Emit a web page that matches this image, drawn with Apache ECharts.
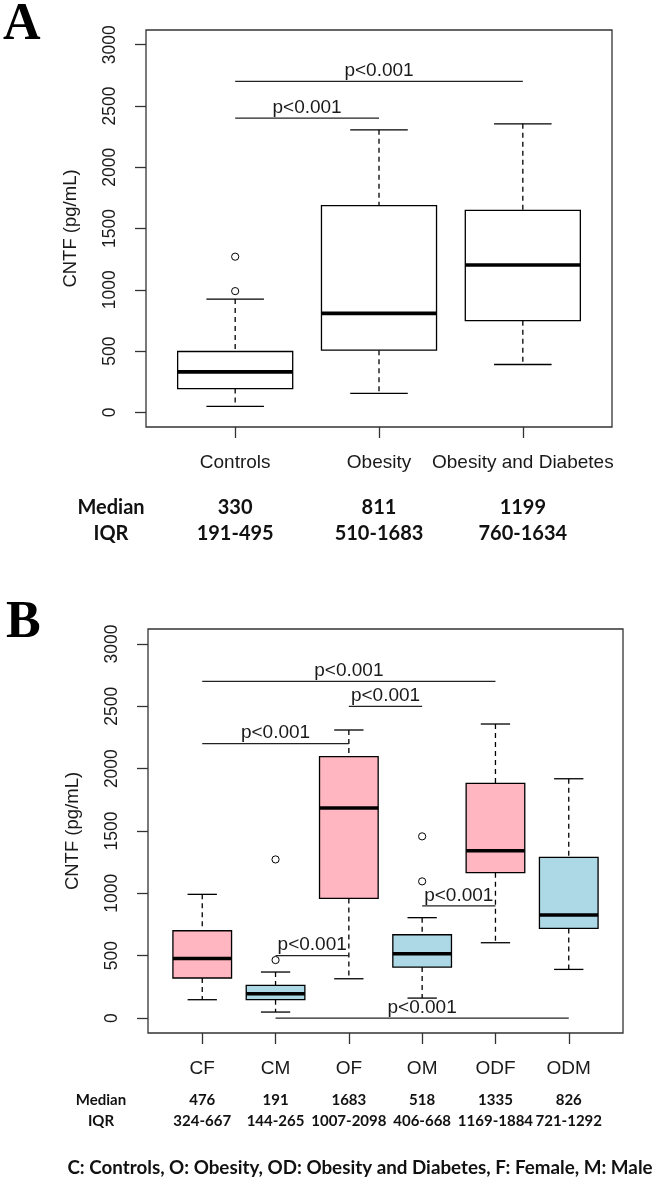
<!DOCTYPE html>
<html>
<head>
<meta charset="utf-8">
<script src="https://cdn.jsdelivr.net/npm/echarts@6/dist/echarts.min.js"></script>
<style>
html,body{margin:0;padding:0;background:#fff;}
#chart{width:660px;height:1181px;}
</style>
</head>
<body>
<div id="chart"></div>
<script>
// ---------- Panel A data ----------
const catsA = ['Controls', 'Obesity', 'Obesity and Diabetes'];
// [lower whisker, Q1, median, Q3, upper whisker]
const boxA = [
  [49, 194, 330, 496, 924],
  [155, 507, 807, 1686, 2305],
  [390, 748, 1202, 1648, 2354]
];
const outliersA = [[1, 989], [1, 1270]];
const medianA = ['330', '811', '1199'];
const iqrA = ['191-495', '510-1683', '760-1634'];
// [from category, to category, level]
const pA = [[1, 3, 2700], [1, 2, 2400]];

// ---------- Panel B data ----------
const catsB = ['CF', 'CM', 'OF', 'OM', 'ODF', 'ODM'];
const boxB = [
  [147, 321, 478, 700, 992],
  [48, 147, 195, 262, 369],
  [315, 959, 1684, 2096, 2310],
  [160, 409, 516, 668, 805],
  [604, 1166, 1342, 1882, 2358],
  [390, 719, 826, 1288, 1919]
];
const outliersB = [[2, 465], [2, 1272], [4, 1096], [4, 1457]];
const medianB = ['476', '191', '1683', '518', '1335', '826'];
const iqrB = ['324-667', '144-265', '1007-2098', '406-668', '1169-1884', '721-1292'];
const pB = [[1, 5, 2700], [3, 4, 2500], [1, 3, 2200], [2, 3, 500], [4, 5, 900], [2, 6, 0]];

const yTicks = [0, 500, 1000, 1500, 2000, 2500, 3000];
const pText = 'p<0.001';
const footnote = 'C: Controls, O: Obesity, OD: Obesity and Diabetes, F: Female, M: Male';

// ---------- styles ----------
const PINK = '#FFB6C1', BLUE = '#ADD8E6';
const fillsA = catsA.map(() => '#ffffff');
const fillsB = catsB.map(c => c.endsWith('F') ? PINK : BLUE);
const TXT = '#1a1a1a';
const AX = '#333';
const SANS = '"Liberation Sans", Arial, sans-serif';
const TAB = 'Lato, "Open Sans", sans-serif';

function boxRender(fills) {
  return function (params, api) {
    const x = api.value(0);
    const lo = api.value(1), q1 = api.value(2), med = api.value(3), q3 = api.value(4), hi = api.value(5);
    const X = v => api.coord([v, 0])[0];
    const Y = v => api.coord([x, v])[1];
    const L = X(x - 0.4), R = X(x + 0.4), C = X(x), cL = X(x - 0.2), cR = X(x + 0.2);
    const dash = {stroke: '#000', lineWidth: 1.3, lineDash: [5, 4], fill: null};
    const solid = {stroke: '#000', lineWidth: 1.3, fill: null};
    return {
      type: 'group',
      children: [
        {type: 'line', shape: {x1: C, y1: Y(hi), x2: C, y2: Y(q3)}, style: dash},
        {type: 'line', shape: {x1: C, y1: Y(q1), x2: C, y2: Y(lo)}, style: dash},
        {type: 'line', shape: {x1: cL, y1: Y(hi), x2: cR, y2: Y(hi)}, style: solid},
        {type: 'line', shape: {x1: cL, y1: Y(lo), x2: cR, y2: Y(lo)}, style: solid},
        {type: 'rect', shape: {x: L, y: Y(q3), width: R - L, height: Y(q1) - Y(q3)},
          style: {fill: fills[params.dataIndex], stroke: '#000', lineWidth: 1.3}},
        {type: 'line', shape: {x1: L, y1: Y(med), x2: R, y2: Y(med)}, style: {stroke: '#000', lineWidth: 3.6, fill: null}}
      ]
    };
  };
}

function outlierRender(params, api) {
  const p = api.coord([api.value(0), api.value(1)]);
  return {type: 'circle', shape: {cx: p[0], cy: p[1], r: 3.6},
    style: {fill: '#fff', stroke: '#000', lineWidth: 1}};
}

function pRender(params, api) {
  const a = api.coord([api.value(0), api.value(2)]);
  const b = api.coord([api.value(1), api.value(2)]);
  return {
    type: 'group',
    children: [
      {type: 'line', shape: {x1: a[0], y1: a[1], x2: b[0], y2: b[1]}, style: {stroke: '#222', lineWidth: 1.3, fill: null}},
      {type: 'text', style: {text: pText, x: (a[0] + b[0]) / 2, y: a[1] - 1, align: 'center', verticalAlign: 'bottom',
        fill: TXT, font: '19px ' + SANS}}
    ]
  };
}

function tableRender(meds, iqrs, off1, off2, size) {
  return function (params, api) {
    const cs = params.coordSys;
    const x = api.coord([api.value(0), 0])[0];
    const bottom = cs.y + cs.height;
    return {
      type: 'group',
      children: [
        {type: 'text', style: {text: meds[params.dataIndex], x: x, y: bottom + off1, align: 'center', verticalAlign: 'middle',
          fill: '#111', font: 'bold ' + size + 'px ' + TAB}},
        {type: 'text', style: {text: iqrs[params.dataIndex], x: x, y: bottom + off2, align: 'center', verticalAlign: 'middle',
          fill: '#111', font: 'bold ' + size + 'px ' + TAB}}
      ]
    };
  };
}

function xAxisCfg(cats, gridIndex, minX, maxX) {
  const idx = cats.map((c, i) => i + 1);
  return {
    type: 'value', gridIndex: gridIndex, min: minX, max: maxX,
    axisLine: {show: false, onZero: false},
    splitLine: {show: false},
    axisTick: {show: true, inside: false, length: 11, customValues: idx, lineStyle: {color: AX, width: 1.3}},
    axisLabel: {show: true, margin: 26, customValues: idx, formatter: v => cats[Math.round(v) - 1] || '',
      color: TXT, fontSize: 19, fontFamily: SANS}
  };
}

function yAxisCfg(gridIndex) {
  return {
    type: 'value', gridIndex: gridIndex, min: -120, max: 3120,
    axisLine: {show: false, onZero: false},
    splitLine: {show: false},
    axisTick: {show: true, inside: false, length: 11, customValues: yTicks, lineStyle: {color: AX, width: 1.3}},
    axisLabel: {show: true, rotate: 90, margin: 27, customValues: yTicks, formatter: v => String(v),
      color: TXT, fontSize: 17.5, fontFamily: SANS},
    name: 'CNTF (pg/mL)', nameLocation: 'middle', nameRotate: 90, nameGap: 66,
    nameTextStyle: {color: TXT, fontSize: 18.5, fontFamily: SANS}
  };
}

const chart = echarts.init(document.getElementById('chart'), null, {renderer: 'canvas'});
chart.setOption({
  animation: false,
  backgroundColor: '#fff',
  grid: [
    {left: 146, right: 48, top: 30, height: 397, show: true, borderColor: AX, borderWidth: 1.3, backgroundColor: 'transparent'},
    {left: 148, right: 37, top: 629, height: 404, show: true, borderColor: AX, borderWidth: 1.3, backgroundColor: 'transparent'}
  ],
  xAxis: [xAxisCfg(catsA, 0, 0.38, 3.62), xAxisCfg(catsB, 1, 0.26, 6.74)],
  yAxis: [yAxisCfg(0), yAxisCfg(1)],
  series: [
    {type: 'custom', xAxisIndex: 0, yAxisIndex: 0, renderItem: boxRender(fillsA),
      data: boxA.map((b, i) => [i + 1].concat(b)), z: 2},
    {type: 'custom', xAxisIndex: 0, yAxisIndex: 0, renderItem: outlierRender, data: outliersA, z: 3},
    {type: 'custom', xAxisIndex: 0, yAxisIndex: 0, renderItem: pRender, data: pA, z: 4},
    {type: 'custom', xAxisIndex: 0, yAxisIndex: 0, renderItem: tableRender(medianA, iqrA, 81, 107, 20),
      data: medianA.map((m, i) => [i + 1, 0]), z: 4},

    {type: 'custom', xAxisIndex: 1, yAxisIndex: 1, renderItem: boxRender(fillsB),
      data: boxB.map((b, i) => [i + 1].concat(b)), z: 2},
    {type: 'custom', xAxisIndex: 1, yAxisIndex: 1, renderItem: outlierRender, data: outliersB, z: 3},
    {type: 'custom', xAxisIndex: 1, yAxisIndex: 1, renderItem: pRender, data: pB, z: 4},
    {type: 'custom', xAxisIndex: 1, yAxisIndex: 1, renderItem: tableRender(medianB, iqrB, 67, 88, 15),
      data: medianB.map((m, i) => [i + 1, 0]), z: 4}
  ],
  graphic: [
    {type: 'text', left: 3, top: 0, style: {text: 'A', font: 'bold 52px "Liberation Serif", "DejaVu Serif", serif', fill: '#000'}},
    {type: 'text', left: 6, top: 598, style: {text: 'B', font: 'bold 52px "Liberation Serif", "DejaVu Serif", serif', fill: '#000'}},
    {type: 'text', x: 111, y: 508, style: {text: 'Median', font: 'bold 20px ' + TAB, fill: '#111', align: 'center', verticalAlign: 'middle'}},
    {type: 'text', x: 111, y: 534, style: {text: 'IQR', font: 'bold 20px ' + TAB, fill: '#111', align: 'center', verticalAlign: 'middle'}},
    {type: 'text', x: 101, y: 1100, style: {text: 'Median', font: 'bold 15px ' + TAB, fill: '#111', align: 'center', verticalAlign: 'middle'}},
    {type: 'text', x: 101, y: 1121, style: {text: 'IQR', font: 'bold 15px ' + TAB, fill: '#111', align: 'center', verticalAlign: 'middle'}},
    {type: 'text', x: 360, y: 1168, style: {text: footnote, font: 'bold 18.8px ' + TAB, fill: '#111', align: 'center', verticalAlign: 'middle'}}
  ]
});
</script>
</body>
</html>
